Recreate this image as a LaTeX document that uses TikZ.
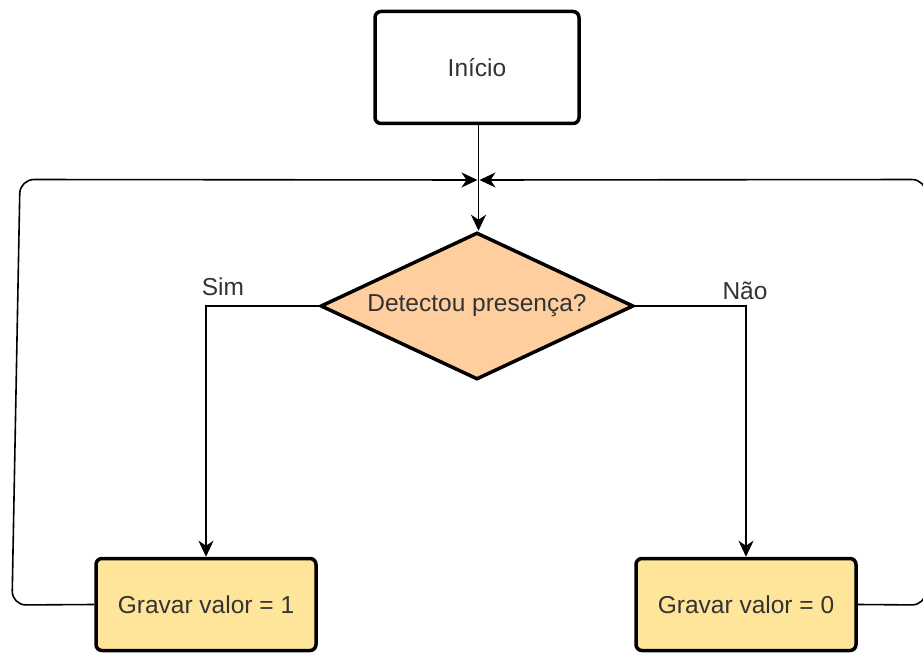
\documentclass[tikz,border=0pt]{standalone}
\usepackage{fontspec}
\setmainfont{Liberation Sans}
\usetikzlibrary{shapes.geometric,arrows.meta}
\definecolor{txt}{HTML}{333333}
\definecolor{decfill}{HTML}{FFCE9F}
\definecolor{boxfill}{HTML}{FFE599}
\tikzset{
  base/.style={inner sep=0pt, font=\fontsize{24.5}{28}\selectfont, text=txt},
  procbox/.style={base, draw=black, line width=3.5pt, rounded corners=6pt, minimum width=220pt, minimum height=92pt},
  startbox/.style={procbox, fill=white, minimum width=204pt, minimum height=112pt},
  valbox/.style={procbox, fill=boxfill},
  decision/.style={base, diamond, draw=black, line width=3.5pt, fill=decfill, minimum width=313pt, minimum height=147pt, aspect=2.1},
  conn/.style={draw=black, line width=1.6pt},
  arr/.style={conn, -{Stealth[length=16pt,width=15pt,inset=5pt]}},
  lbl/.style={base}
}
\begin{document}
\begin{tikzpicture}[x=1pt,y=-1pt]
\useasboundingbox (0,0) rectangle (923,655);
\clip (0,0) rectangle (923,655);
\fill[white] (0,0) rectangle (923,655);
\node[startbox] (start) at (477,67.5) {Início};
\node[decision] (dec) at (477,306) {Detectou presença?};
\node[valbox] (b1) at (206,604.5) {Gravar valor = 1};
\node[valbox] (b0) at (746,604.5) {Gravar valor = 0};
\coordinate (m) at (478.5,180);
\coordinate (l1) at (12,605);
\coordinate (l2) at (20,179.5);
\coordinate (r1) at (926,605);
\coordinate (r2) at (926,179.5);
\draw[arr] (start.south -| m) -- (dec.north -| m);
\draw[arr] (dec.west) -| (b1.north);
\draw[arr] (dec.east) -| (b0.north);
\draw[arr, rounded corners=14pt] (b1.west) -- (l1) -- (l2) -- ([xshift=-1pt]m);
\draw[arr, rounded corners=14pt] (b0.east) -- (r1) -- (r2) -- ([xshift=1pt]m);
\node[lbl] (sim) at (223,287) {Sim};
\node[lbl] (nao) at (745,291) {Não};
\end{tikzpicture}
\end{document}
